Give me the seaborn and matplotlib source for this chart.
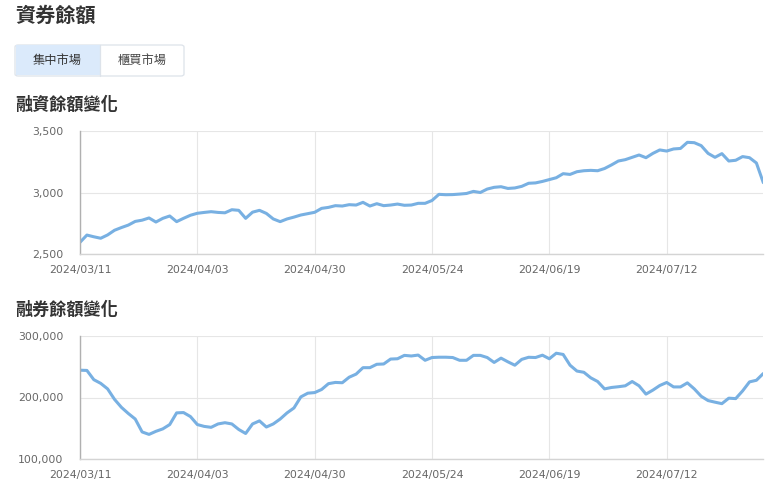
import numpy as np
import pandas as pd
import matplotlib
matplotlib.use("Agg")
import matplotlib.pyplot as plt
import seaborn as sns
from matplotlib.patches import FancyBboxPatch, Rectangle
from matplotlib.ticker import FuncFormatter, FixedLocator

# ---------------- data ----------------
holidays = ["2024-04-04", "2024-04-05", "2024-05-01", "2024-06-10",
            "2024-07-24", "2024-07-25"]
all_days = pd.bdate_range("2024-03-11", "2024-08-05")
dates = [d.strftime("%Y/%m/%d") for d in all_days
         if d.strftime("%Y-%m-%d") not in holidays]

margin_balance = [
    2595, 2654, 2640, 2628, 2655, 2693, 2715, 2735, 2765, 2775,
    2793, 2760, 2790, 2809, 2763, 2790, 2815, 2831, 2838, 2844,
    2838, 2835, 2860, 2855, 2790, 2840, 2855, 2830, 2785, 2763,
    2785, 2800, 2817, 2828, 2839, 2871, 2879, 2893, 2890, 2901,
    2898, 2920, 2890, 2909, 2893, 2898, 2906, 2896, 2898, 2912,
    2912, 2935, 2985, 2982, 2983, 2987, 2992, 3009, 3000, 3028,
    3042, 3047, 3033, 3037, 3050, 3075, 3078, 3090, 3105, 3120,
    3153, 3147, 3169, 3177, 3180, 3177, 3195, 3224, 3256, 3267,
    3286, 3305, 3283, 3318, 3346, 3337, 3354, 3358, 3408, 3405,
    3381, 3318, 3286, 3316, 3256, 3262, 3292, 3283, 3240, 3080,
]

short_balance_k = [
    244.4, 244.0, 229.0, 223.0, 214.0, 197.0, 184.0, 174.0, 165.0, 144.0,
    140.0, 145.0, 149.0, 156.0, 175.0, 175.5, 169.0, 156.0, 153.0, 151.5,
    157.0, 159.0, 157.0, 148.0, 141.5, 157.0, 162.0, 152.0, 157.0, 165.0,
    175.0, 183.0, 201.0, 207.0, 208.0, 213.0, 222.5, 224.5, 224.0, 233.0,
    238.0, 248.5, 248.5, 254.0, 254.5, 262.5, 263.0, 268.5, 267.5, 269.0,
    260.5, 265.0, 265.5, 265.5, 265.0, 260.5, 260.5, 268.5, 268.5, 265.0,
    257.0, 264.0, 258.0, 252.5, 262.0, 265.4, 265.0, 268.8, 263.0, 272.0,
    270.0, 252.5, 243.0, 241.0, 232.0, 226.0, 214.0, 216.3, 217.5, 219.0,
    226.0, 219.0, 205.5, 212.0, 219.5, 224.4, 217.2, 217.2, 223.8, 214.0,
    202.0, 195.0, 192.4, 190.0, 198.9, 198.2, 210.7, 225.4, 228.0, 239.0,
]
short_balance = [v * 1000 for v in short_balance_k]

page_title = "資券餘額"
tabs = ["集中市場", "櫃買市場"]
chart_titles = ["融資餘額變化", "融券餘額變化"]
y_ticks_top = [2500, 3000, 3500]
y_ticks_bottom = [100000, 200000, 300000]
tick_step = 17

# ---------------- style ----------------
sns.set_theme(style="white")
plt.rcParams["font.family"] = ["Noto Sans CJK TC", "DejaVu Sans"]

W, H = 780, 488
fig = plt.figure(figsize=(W / 100, H / 100), dpi=100)
fig.patch.set_facecolor("white")

def fx(px):
    return px / W

def fy(py):
    return 1 - py / H

LINE = "#78b0e2"
GRID = "#e6e6e6"
TXT = "#333333"
TICK = "#666666"

# header
fig.text(fx(15), fy(15), page_title, fontsize=14.5, color=TXT,
         ha="left", va="center", fontweight="bold")

# tabs
box = FancyBboxPatch((fx(15), fy(76)), fx(169), 31 / H,
                     boxstyle="round,pad=0,rounding_size=0.004",
                     transform=fig.transFigure, facecolor="white",
                     edgecolor="#dde3ea", linewidth=0.9)
fig.add_artist(box)
fig.add_artist(Rectangle((fx(15.6), fy(75.4)), fx(84.4), 30 / H,
                         transform=fig.transFigure, facecolor="#dbeafb",
                         edgecolor="none"))
fig.add_artist(plt.Line2D([fx(100), fx(100)], [fy(45), fy(76)],
                          transform=fig.transFigure, color="#dde3ea", lw=0.9))
fig.text(fx(57), fy(60.5), tabs[0], fontsize=8.8, color=TXT,
         ha="center", va="center")
fig.text(fx(142), fy(60.5), tabs[1], fontsize=8.8, color="#444444",
         ha="center", va="center")

fig.text(fx(15), fy(104.5), chart_titles[0], fontsize=12.3, color=TXT,
         ha="left", va="center", fontweight="bold")
fig.text(fx(15), fy(310), chart_titles[1], fontsize=12.3, color=TXT,
         ha="left", va="center", fontweight="bold")

x_idx = list(range(len(dates)))
tick_pos = x_idx[::tick_step]
tick_lab = dates[::tick_step]

def setup(ax, yticks, ylim):
    ax.set_xlim(0, len(dates) - 1)
    ax.set_ylim(*ylim)
    ax.xaxis.set_major_locator(FixedLocator(tick_pos))
    ax.set_xticklabels(tick_lab)
    ax.set_yticks(yticks)
    ax.yaxis.set_major_formatter(FuncFormatter(lambda v, p: f"{int(v):,}"))
    ax.grid(True, color=GRID, lw=0.8)
    ax.set_axisbelow(True)
    for s in ["top", "right"]:
        ax.spines[s].set_visible(False)
    ax.spines["left"].set_color("#b0b0b0")
    ax.spines["left"].set_linewidth(1.0)
    ax.spines["bottom"].set_color("#d4d4d4")
    ax.spines["bottom"].set_linewidth(1.0)
    ax.tick_params(axis="both", length=0, labelsize=7.8, labelcolor=TICK)
    ax.tick_params(axis="y", pad=12)
    ax.tick_params(axis="x", pad=8)
    for lab in ax.get_xticklabels() + ax.get_yticklabels():
        lab.set_family("DejaVu Sans")
    ax.set_xlabel("")
    ax.set_ylabel("")

left = fx(80)
width = (763.3 - 80) / W

ax1 = fig.add_axes([left, fy(254), width, 123 / H])
sns.lineplot(x=x_idx, y=margin_balance, ax=ax1, color=LINE, linewidth=2.2,
             solid_joinstyle="round", solid_capstyle="round")
setup(ax1, y_ticks_top, (2500, 3500))

ax2 = fig.add_axes([left, fy(459), width, 123 / H])
sns.lineplot(x=x_idx, y=short_balance, ax=ax2, color=LINE, linewidth=2.2,
             solid_joinstyle="round", solid_capstyle="round")
setup(ax2, y_ticks_bottom, (100000, 300000))

fig.savefig("out.png", dpi=100, facecolor="white")
